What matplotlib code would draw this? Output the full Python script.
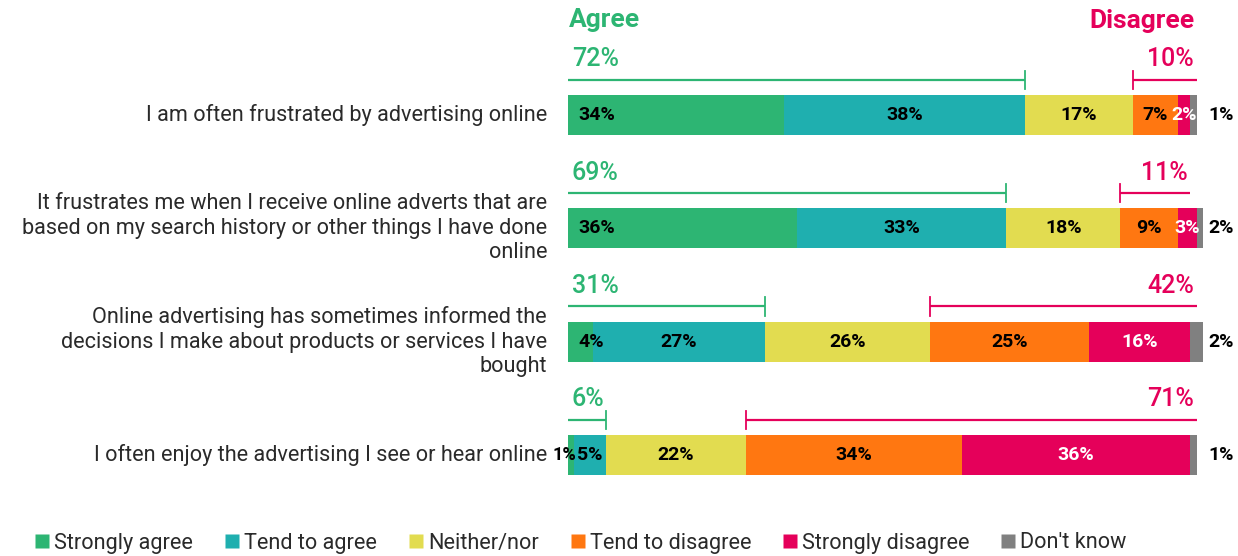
import matplotlib
matplotlib.use("Agg")
import matplotlib.pyplot as plt
from matplotlib.lines import Line2D
import numpy as np

plt.rcParams['font.family'] = ['Roboto', 'DejaVu Sans']

statements = [
    "I am often frustrated by advertising online",
    "It frustrates me when I receive online adverts that are\nbased on my search history or other things I have done\nonline",
    "Online advertising has sometimes informed the\ndecisions I make about products or services I have\nbought",
    "I often enjoy the advertising I see or hear online",
]
series_names = ["Strongly agree", "Tend to agree", "Neither/nor",
                "Tend to disagree", "Strongly disagree", "Don't know"]
strongly_agree = [34, 36, 4, 1]
tend_to_agree = [38, 33, 27, 5]
neither_nor = [17, 18, 26, 22]
tend_to_disagree = [7, 9, 25, 34]
strongly_disagree = [2, 3, 16, 36]
dont_know = [1, 2, 2, 1]
agree_totals = [72, 69, 31, 6]
disagree_totals = [10, 11, 42, 71]

colors = ["#2DB573", "#1FAFAF", "#E2DC50", "#FF7711", "#E5005A", "#808080"]
label_colors = ["black", "black", "black", "black", "white", "black"]
GREEN = "#2DB573"
PINK = "#E5005A"
TEXT = "#2a2a2a"

values = np.array([strongly_agree, tend_to_agree, neither_nor,
                   tend_to_disagree, strongly_disagree, dont_know], dtype=float)

fig = plt.figure(figsize=(12.38, 5.56), dpi=100)
ax = fig.add_axes([568 / 1238, 0.0, 635 / 1238, 1.0])
ax.set_xlim(0, 100)
ax.set_ylim(3.892, -1.015)
ax.axis("off")

VAL_FS = 14
rows = np.arange(len(statements))
bar_h = 0.353
left = np.zeros(len(statements))
for k in range(values.shape[0]):
    ax.barh(rows, values[k], left=left, height=bar_h, color=colors[k],
            edgecolor="none", label=series_names[k])
    for i in rows:
        v = values[k, i]
        txt = f"{int(v)}%"
        if k == 0:
            if v >= 3:
                ax.text(1.7, i, txt, ha="left", va="center", fontsize=VAL_FS,
                        fontweight="bold", color=label_colors[k])
            else:
                # tiny segment: label sits just left of the next one
                ax.text(left[i] + v + 0.3, i, txt, ha="right", va="center",
                        fontsize=VAL_FS - 1, fontweight="bold",
                        color=label_colors[k])
        elif k == 5:
            ax.text(100.9, i, txt, ha="left", va="center", fontsize=VAL_FS,
                    fontweight="bold", color="black")
        else:
            ax.text(left[i] + v / 2, i, txt, ha="center", va="center",
                    fontsize=VAL_FS, fontweight="bold", color=label_colors[k])
    left += values[k]

# Agree / disagree brackets above each bar
line_off = -0.31
tick = 0.08
for i in rows:
    a = agree_totals[i]
    yl = i + line_off
    ax.plot([0, a], [yl, yl], color=GREEN, lw=1.6, solid_capstyle="butt")
    ax.plot([a, a], [yl - tick, yl + tick], color=GREEN, lw=1.3)
    ax.text(0.6, i - 0.49, f"{a}%", ha="left", va="center", fontsize=18,
            fontweight="medium", color=GREEN)
    d_start = values[:3, i].sum()
    d_end = d_start + disagree_totals[i]
    ax.plot([d_start, d_end], [yl, yl], color=PINK, lw=1.6, solid_capstyle="butt")
    ax.plot([d_start, d_start], [yl - tick, yl + tick], color=PINK, lw=1.3)
    ax.text(d_end - 0.4, i - 0.49, f"{disagree_totals[i]}%", ha="right",
            va="center", fontsize=18, fontweight="medium", color=PINK)
    ax.text(-3.3, i, statements[i], ha="right", va="center", fontsize=15.6,
            color=TEXT, linespacing=1.22)

ax.text(0.2, -0.84, "Agree", ha="left", va="center", fontsize=19,
        fontweight="bold", color=GREEN)
ax.text(98.7, -0.83, "Disagree", ha="right", va="center", fontsize=19,
        fontweight="bold", color=PINK)

handles = [Line2D([0], [0], marker="s", linestyle="none", markersize=10,
                  markerfacecolor=c, markeredgecolor="none") for c in colors]
fig.legend(handles, series_names, loc="center left",
           bbox_to_anchor=(12 / 1238, 1 - 543 / 556), ncol=6, frameon=False,
           fontsize=15.6, handletextpad=0.05, columnspacing=1.3,
           handlelength=1.0, labelcolor=TEXT)

fig.savefig("out.png", dpi=100, facecolor="white")
